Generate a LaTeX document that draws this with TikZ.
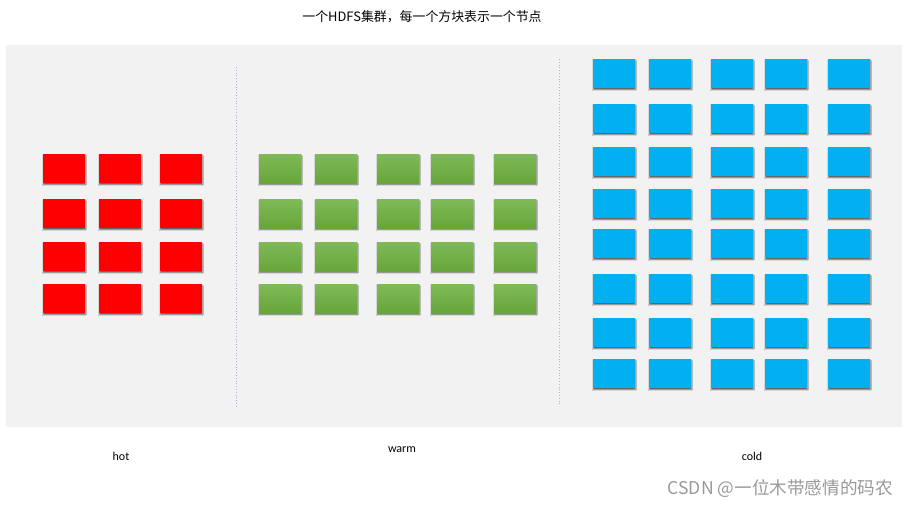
\documentclass[tikz,border=0pt]{standalone}
\usepackage{fontspec}
\setmainfont{Carlito}
\newfontfamily\cjk{Noto Sans CJK SC}
\usetikzlibrary{shadows.blur}
\definecolor{bgc}{HTML}{F2F2F2}
\definecolor{hotc}{HTML}{FF0000}
\definecolor{warmtop}{HTML}{7EBA57}
\definecolor{warmbot}{HTML}{67A53A}
\definecolor{coldc}{HTML}{00B0F0}
\definecolor{sepc}{HTML}{A9B6D6}
\definecolor{wmc}{HTML}{999999}
\tikzset{
  nodebox/.style={anchor=north west, inner sep=0pt, minimum width=42pt, minimum height=29pt,
    blur shadow={shadow xshift=0pt, shadow yshift=-1.6pt, shadow blur steps=5, shadow blur radius=1.1pt, shadow opacity=60}},
  hotbox/.style={nodebox, fill=hotc},
  warmbox/.style={nodebox, top color=warmtop, bottom color=warmbot},
  coldbox/.style={nodebox, fill=coldc},
  sepline/.style={draw=sepc, dotted, line width=0.8pt},
  lbl/.style={font=\fontsize{12}{14}\selectfont, inner sep=0pt},
}
\begin{document}
\begin{tikzpicture}[x=1pt,y=-1pt]
\useasboundingbox (0,0) rectangle (908,507);
\fill[bgc] (6,45) rectangle (902,427);
\node[font=\cjk\fontsize{12.9}{14}\selectfont, inner sep=0pt] (title) at (422,17) {一个HDFS集群，每一个方块表示一个节点};
% separators
\coordinate (s1a) at (236,67);
\coordinate (s1b) at (236,407);
\coordinate (s2a) at (559,59);
\coordinate (s2b) at (559,404);
\draw[sepline] (s1a) -- (s1b);
\draw[sepline] (s2a) -- (s2b);
% hot
\foreach \x [count=\i] in {43,99,160}{
  \foreach \y [count=\j] in {154,199,242,284}{
    \node[hotbox] (hot-\j-\i) at (\x,\y) {};
  }
}
% warm
\foreach \x [count=\i] in {259,315,377,431,494}{
  \foreach \y [count=\j] in {154,199,242,284}{
    \node[warmbox] (warm-\j-\i) at (\x,\y) {};
  }
}
% cold
\foreach \x [count=\i] in {593,649,711,765,828}{
  \foreach \y [count=\j] in {59,104,147,189,229,274,318,359}{
    \node[coldbox] (cold-\j-\i) at (\x,\y) {};
  }
}
\node[lbl] (hot) at (121,456) {hot};
\node[lbl] (warm) at (402,450) {warm};
\node[lbl] (cold) at (752,456) {cold};
\node[font=\cjk\fontsize{17.6}{19}\selectfont, text=wmc, inner sep=0pt, anchor=east] (wm) at (893,489) {CSDN @一位木带感情的码农};
\end{tikzpicture}
\end{document}
